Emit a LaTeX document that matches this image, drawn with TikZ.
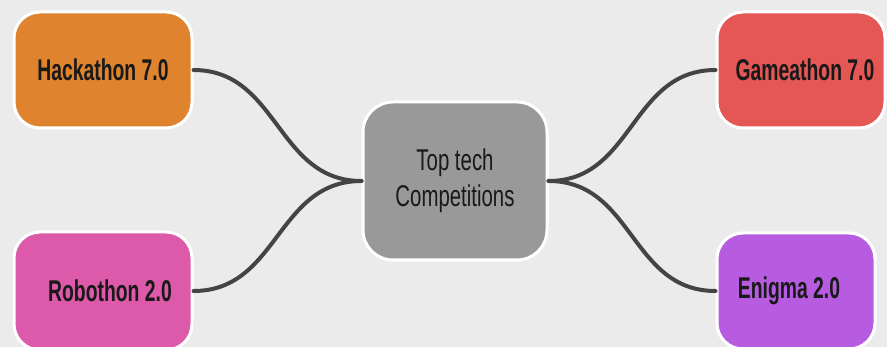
\documentclass[tikz,border=0pt]{standalone}
\usepackage{fontspec}
\setmainfont{Liberation Sans}[FakeStretch=0.68,BoldFeatures={FakeStretch=0.645}]
\definecolor{bgc}{HTML}{EBEBEB}
\definecolor{hackc}{HTML}{DF832F}
\definecolor{gamec}{HTML}{E55754}
\definecolor{roboc}{HTML}{DD5AAA}
\definecolor{enigc}{HTML}{B75CE1}
\definecolor{centc}{HTML}{999999}
\definecolor{linkc}{HTML}{444444}
\begin{document}
\begin{tikzpicture}[x=1pt,y=-1pt,
  box/.style={draw=white, line width=3pt, rounded corners=26pt, inner sep=0pt,
    font=\fontsize{30}{36}\selectfont\bfseries, text=black!90, align=center},
  link/.style={draw=linkc, line width=4pt, line cap=round}]
\fill[bgc] (0,0) rectangle (887,347);
\useasboundingbox (0,0) rectangle (887,347);
\node[box, fill=hackc, minimum width=178pt, minimum height=116pt] (hack) at (103,70) {Hackathon 7.0};
\node[box, fill=gamec, minimum width=168pt, minimum height=116pt] (game) at (801,70) {\hspace*{8pt}Gameathon 7.0};
\node[box, fill=roboc, minimum width=178pt, minimum height=118pt] (robo) at (103,291) {\hspace*{14pt}Robothon 2.0};
\node[box, fill=enigc, minimum width=158pt, minimum height=116pt] (enig) at (796,291) {Enigma 2.0\hspace*{14pt}};
\node[box, fill=centc, minimum width=184pt, minimum height=158pt, rounded corners=30pt,
  font=\fontsize{30}{36}\selectfont\mdseries] (cent) at (455,181) {Top tech\\Competitions};
\draw[link] (hack.east) .. controls +(85,0) and +(-85,0) .. (cent.west);
\draw[link] (robo.east) .. controls +(85,0) and +(-85,0) .. (cent.west);
\draw[link] (cent.east) .. controls +(85,0) and +(-85,0) .. (game.west);
\draw[link] (cent.east) .. controls +(85,0) and +(-85,0) .. (enig.west);
\end{tikzpicture}
\end{document}
